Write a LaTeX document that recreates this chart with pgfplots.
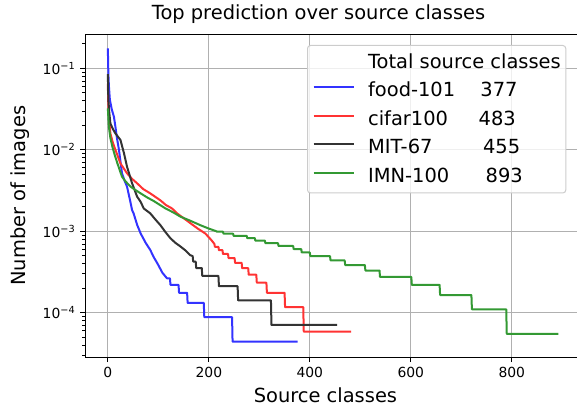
\documentclass[border=0pt]{standalone}
\usepackage{fontspec}
\setmainfont{DejaVu Sans}
\usepackage{pgfplots}
\pgfplotsset{compat=1.18}
\definecolor{cb}{RGB}{51,51,255}
\definecolor{cr}{RGB}{255,51,51}
\definecolor{ck}{RGB}{51,51,51}
\definecolor{cg}{RGB}{51,153,51}
\definecolor{gridc}{RGB}{176,176,176}
\definecolor{legc}{RGB}{204,204,204}
\newcommand{\bigf}{\fontsize{19.44}{23}\selectfont}
\newcommand{\tickf}{\fontsize{13.9}{16}\selectfont}
\begin{document}
\begin{tikzpicture}[x=1pt,y=1pt]
\begin{axis}[
  at={(85.3pt,48.7pt)}, anchor=south west,
  scale only axis, width=496pt, height=323.3pt,
  ymode=log,
  xmin=-44.65, xmax=937.65, ymin=2.84e-5, ymax=0.264,
  axis line style={line width=1pt, black},
  tick align=outside, major tick length=4.9pt, minor tick length=2.8pt,
  every major tick/.style={line width=1pt, black},
  every minor tick/.style={line width=0.8pt, black},
  xtick pos=left, ytick pos=left,
  xtick={0,200,400,600,800},
  ytick={1e-4,1e-3,1e-2,1e-1},
  yticklabels={{10\textsuperscript{−4}},{10\textsuperscript{−3}},{10\textsuperscript{−2}},{10\textsuperscript{−1}}},
  minor ytick={3e-5,4e-5,5e-5,6e-5,7e-5,8e-5,9e-5,2e-4,3e-4,4e-4,5e-4,6e-4,7e-4,8e-4,9e-4,2e-3,3e-3,4e-3,5e-3,6e-3,7e-3,8e-3,9e-3,2e-2,3e-2,4e-2,5e-2,6e-2,7e-2,8e-2,9e-2,2e-1},
  grid=major, major grid style={gridc, line width=1pt},
  /pgf/number format/assume math mode=true,
  ticklabel style={font=\tickf},
  xticklabel style={anchor=base, inner sep=0pt, yshift=-15pt},
  yticklabel style={anchor=east, inner sep=0pt, xshift=-5pt},
  title={Top prediction over source classes},
  title style={at={(0.1339,1)}, anchor=base west, yshift=8.3pt, inner sep=0pt, font=\bigf},
  xlabel={Source classes},
  xlabel style={at={(0.3393,0)}, anchor=base west, yshift=-44.8pt, inner sep=0pt, font=\bigf},
  ylabel={Number of images},
  ylabel style={at={(-0.1215,0.5)}, rotate=0, anchor=base, inner sep=0pt, font=\bigf},
  legend cell align=left,
  legend style={at={(0.447,0.966)}, anchor=north west, draw=legc, line width=1pt,
    rounded corners=3pt, fill=white, fill opacity=0.8, text opacity=1, font=\bigf,
    inner xsep=5pt, inner ysep=8.5pt, row sep=12pt, column sep=13pt,
    nodes={inner sep=0pt, text height=14.5pt, text depth=2pt}},
  legend image code/.code={\draw[#1, line width=2pt] (0pt,0.33em) -- (40.6pt,0.33em);},
  no markers,
  every axis plot/.append style={line width=2pt, line join=round},
]
\addlegendimage{empty legend}
\addlegendentry{Total source classes}
\addplot[cb] coordinates {(0,0.176) (1,0.087) (2,0.062) (4,0.041) (8,0.031) (12,0.0255) (15,0.0192) (18,0.0140) (22,0.0100) (25,0.0072) (28,0.00515) (33,0.0042) (38,0.00353) (44,0.0024) (48,0.00182) (51,0.00166) (58,0.00120) (65,0.00094) (75,0.00072) (84,0.00059) (91,0.00048) (98,0.000405) (108,0.00031) (117,0.000265) (123,0.000265) (124,0.000220) (140,0.000220) (141,0.000176) (157,0.000176) (158,0.000132) (190,0.000132) (191,0.0000882) (246,0.0000882) (247,0.0000441) (376,0.0000441)};
\addlegendentry{\makebox[112.3pt][l]{food-101}377}
\addplot[cr] coordinates {(0,0.065) (1,0.0338) (3,0.022) (5,0.0159) (10,0.0122) (15,0.0100) (25,0.0068) (38,0.00515) (48,0.0044) (58,0.00388) (70,0.0033) (84,0.00292) (104,0.0024) (115,0.0021) (127,0.00191) (137,0.00166) (150,0.00145) (164,0.00125) (178,0.00108) (193,0.00094) (205,0.00078) (211,0.00070) (212,0.000645) (219,0.000645) (220,0.000586) (227,0.000586) (228,0.000527) (238,0.000527) (239,0.000469) (251,0.000469) (252,0.00041) (265,0.00041) (266,0.000352) (278,0.000352) (279,0.000293) (294,0.000293) (295,0.000234) (314,0.000234) (315,0.000176) (350,0.000176) (351,0.000117) (387,0.000117) (388,0.0000586) (482,0.0000586)};
\addlegendentry{\makebox[110.6pt][l]{cifar100}483}
\addplot[ck] coordinates {(0,0.085) (1,0.041) (3,0.028) (5,0.0211) (10,0.018) (15,0.0159) (25,0.0132) (32,0.00906) (38,0.0062) (48,0.00388) (58,0.00266) (65,0.00230) (71,0.00191) (84,0.00166) (94,0.0014) (104,0.00119) (114,0.00098) (124,0.00082) (134,0.00072) (144,0.00065) (154,0.00058) (163,0.00051) (168,0.000496) (169,0.000425) (174,0.000425) (175,0.000354) (186,0.000354) (187,0.000283) (219,0.000283) (220,0.000212) (257,0.000212) (258,0.000142) (323,0.000142) (324,0.0000708) (454,0.0000708)};
\addlegendentry{\makebox[115pt][l]{MIT-67}455}
\addplot[cg] coordinates {(0,0.0323) (2,0.0192) (5,0.0140) (9,0.0109) (14,0.0085) (19,0.0068) (28,0.00468) (35,0.0041) (45,0.00353) (55,0.0032) (65,0.00292) (78,0.0026) (91,0.00235) (114,0.00191) (130,0.0017) (144,0.00151) (163,0.00135) (183,0.00119) (200,0.00108) (215,0.00100) (216,0.00099) (228,0.00099) (229,0.000935) (248,0.000935) (249,0.00088) (275,0.00088) (276,0.000825) (291,0.000825) (292,0.00077) (311,0.00077) (312,0.000715) (337,0.000715) (338,0.00066) (367,0.00066) (368,0.000605) (383,0.000605) (384,0.00055) (400,0.00055) (401,0.000495) (440,0.000495) (441,0.00044) (469,0.00044) (470,0.000385) (509,0.000385) (510,0.00033) (538,0.00033) (539,0.000275) (601,0.000275) (602,0.00022) (657,0.00022) (658,0.000165) (720,0.000165) (721,0.00011) (789,0.00011) (790,0.000055) (892,0.000055)};
\addlegendentry{\makebox[117.6pt][l]{IMN-100}893}
\end{axis}
\pgfresetboundingbox
\useasboundingbox (0,0) rectangle (577pt,406pt);
\end{tikzpicture}
\end{document}
